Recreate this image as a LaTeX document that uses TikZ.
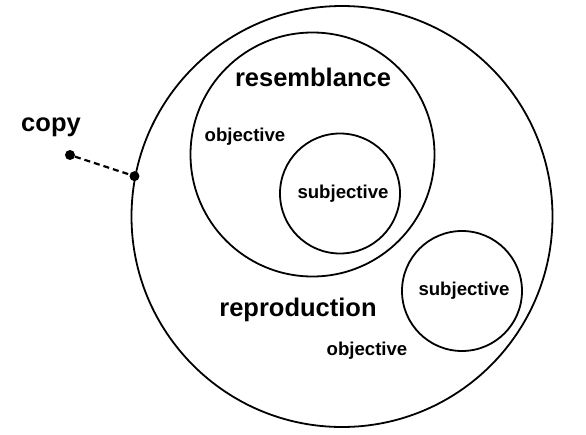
\documentclass[tikz,border=0pt]{standalone}
\usepackage{fontspec}
\setmainfont{Liberation Sans}

\begin{document}
\begin{tikzpicture}[x=1pt,y=-1pt,
        ring/.style={draw,circle,line width=1.8pt,inner sep=0pt},
        dot/.style={circle,fill,inner sep=0pt,minimum size=10pt},
        bigtext/.style={font=\fontsize{25.5}{30}\selectfont\bfseries},
        smalltext/.style={font=\fontsize{18.6}{22}\selectfont\bfseries}]
    \useasboundingbox (0,0) rectangle (586,434);
    \node[ring,minimum size=421pt] (reproduction) at (342,216.5) {};
    \node[ring,minimum size=244pt] (resemblance) at (312.5,154.5) {};
    \node[ring,minimum size=120pt] (subjin) at (340,193.5) {};
    \node[ring,minimum size=120pt] (subjout) at (462,291) {};
    \node[bigtext] (resemblancelabel) at (313,77) {resemblance};
    \node[smalltext] (objin) at (245,137) {objective};
    \node[smalltext] (subjinlabel) at (343,193.5) {subjective};
    \node[smalltext] (subjoutlabel) at (464,291) {subjective};
    \node[bigtext] (reproductionlabel) at (298,310) {reproduction};
    \node[smalltext] (objout) at (367,351) {objective};
    \node[bigtext] (copylabel) at (51,127.5) {copy};
    \node[dot] (copy) at (70,155) {};
    \node[dot] (contact) at (reproduction.169.7) {};
    \draw[line width=2.2pt,dash pattern=on 6pt off 4pt] (copy) -- (contact);
\end{tikzpicture}
\end{document}
